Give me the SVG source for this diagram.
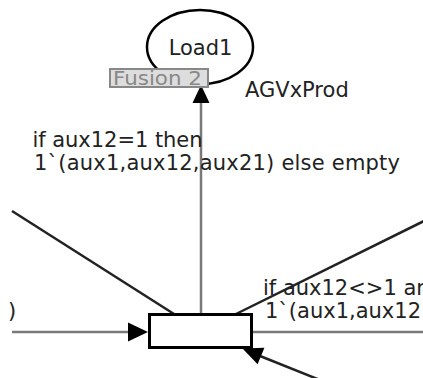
<svg xmlns="http://www.w3.org/2000/svg" width="423" height="378" viewBox="0 0 423 378">
<style>
text{font-family:"DejaVu Sans","Liberation Sans",sans-serif;font-size:21px;fill:#222}
.arc{fill:none;stroke-width:2.5}
.g{stroke:#7a7a7a}
.d{stroke:#222}
.head{fill:#000}
</style>
<rect width="423" height="378" fill="#fff"/>
<g id="connectors">
<line class="arc g" x1="201" y1="102" x2="201" y2="314"/>
<polygon class="head" points="201,85 192.5,103 209.5,103"/>
<line class="arc g" x1="12" y1="332" x2="130" y2="332"/>
<polygon class="head" points="148,332 128,322.5 128,341.5"/>
<line class="arc g" x1="252" y1="332" x2="423" y2="332"/>
<line class="arc d" x1="12" y1="211" x2="174" y2="314"/>
<line class="arc d" x1="236" y1="314" x2="424" y2="221"/>
<line class="arc d" x1="260" y1="356" x2="335" y2="386"/>
<polygon class="head" points="242.5,348.5 264.4,347.7 257.6,364.3"/>
</g>
<g id="place-Load1">
<ellipse cx="200" cy="47" rx="53" ry="37" fill="#fff" stroke="#000" stroke-width="2.5"/>
<text x="200.5" y="55" text-anchor="middle">Load1</text>
<rect x="110" y="69" width="98" height="18" fill="#ddd" stroke="#888" stroke-width="2"/>
<text x="113" y="85" style="fill:#888;font-size:19px" textLength="89" lengthAdjust="spacingAndGlyphs">Fusion 2</text>
<text x="245" y="97">AGVxProd</text>
</g>
<g id="transition">
<rect x="149.5" y="314.5" width="102" height="33" fill="#fff" stroke="#000" stroke-width="3"/>
</g>
<g id="labels">
<text x="32.5" y="147" textLength="170" lengthAdjust="spacing">if aux12=1 then</text>
<text x="34" y="170" textLength="366" lengthAdjust="spacing">1`(aux1,aux12,aux21) else empty</text>
<text x="263" y="295">if aux12&lt;&gt;1 an</text>
<text x="265" y="318">1`(aux1,aux12</text>
<text x="8" y="318">)</text>
</g>
</svg>
